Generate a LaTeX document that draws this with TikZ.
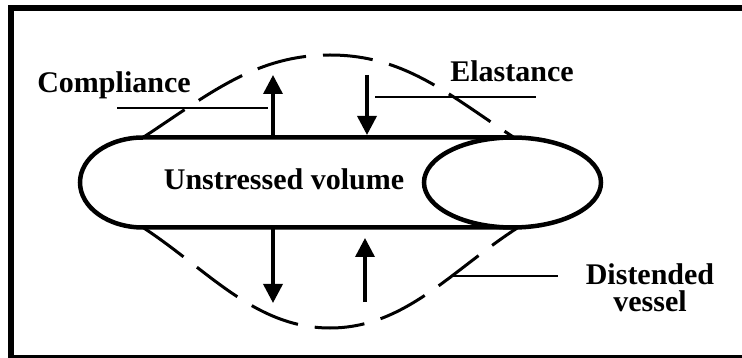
\documentclass[tikz,border=0pt]{standalone}
\usepackage{fontspec}
\setmainfont{Liberation Serif}
\usetikzlibrary{arrows.meta}

\begin{document}
\begin{tikzpicture}[x=1pt, y=-1pt,
    every node/.style={font=\bfseries\fontsize{30}{28}\selectfont, inner sep=0pt},
    wall/.style={line width=4.5pt},
    distwall/.style={line width=3pt, dash pattern=on 50pt off 17pt},
    leader/.style={line width=1.3pt},
    press/.style={line width=3.5pt, -{Triangle[length=19pt, width=19pt]}}]
  \useasboundingbox (0,0) rectangle (742,358);
  \clip (0,0) rectangle (742,358);
  % frame
  \draw[line width=6pt] (11,8.5) rectangle (748,357.5);
  % unstressed vessel
  \draw[wall] (512.5,137.5) -- (143,137.5)
    arc[start angle=-90, end angle=-270, x radius=63, y radius=45]
    -- (512.5,227.5);
  \draw[wall] (512.5,182.5) ellipse[x radius=88.5, y radius=45];
  % distended vessel
  \draw[distwall] (143,137.5) .. controls (208,95) and (255,55) .. (330,55)
    .. controls (405,55) and (449,95) .. (514,137.5);
  \draw[distwall] (143,227.5) .. controls (208,270) and (255,328) .. (330,328)
    .. controls (405,328) and (452,270) .. (518,227.5);
  % pressure arrows
  \draw[press] (273,137.5) -- (273,75);
  \draw[press] (367,75) -- (367,135);
  \draw[press] (273,227.5) -- (273,303);
  \draw[press] (365,302) -- (365,238);
  % leaders
  \draw[leader] (117,108) -- (268,108);
  \draw[leader] (375,97) -- (536,97);
  \draw[leader] (451,276) -- (558,276);
  % labels
  \node[anchor=base] (compl) at (114,93) {Compliance};
  \node[anchor=base] (elast) at (512,82) {Elastance};
  \node[anchor=base] (unstr) at (284,190) {Unstressed volume};
  \node[anchor=base, align=center] (disten) at (650,312) {Distended\\vessel};
\end{tikzpicture}
\end{document}
